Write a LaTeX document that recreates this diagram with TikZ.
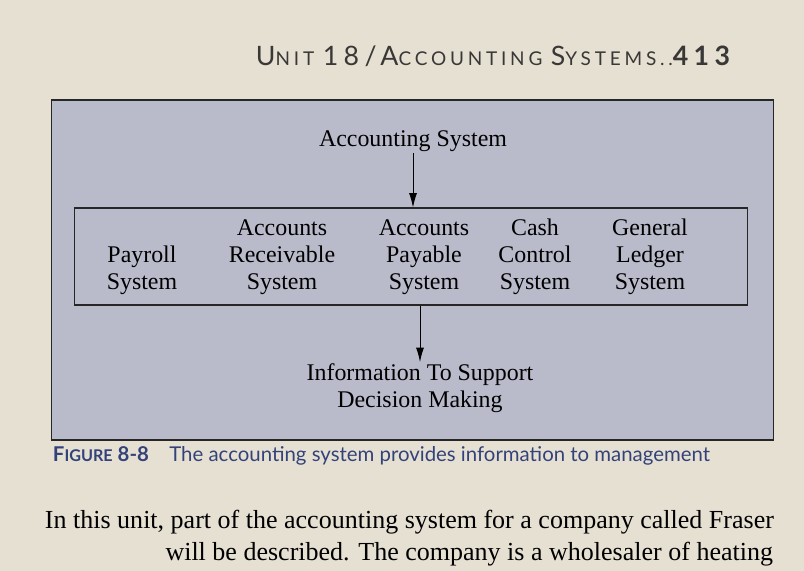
\documentclass[tikz,border=0pt]{standalone}
\usepackage{fontspec}
\setmainfont{Liberation Serif}
\setsansfont{Lato}
\usetikzlibrary{positioning,arrows.meta}
\definecolor{pagebg}{HTML}{E6E0D3}
\definecolor{boxfill}{HTML}{B9BBCB}
\definecolor{capblue}{HTML}{34427A}
\definecolor{headgray}{HTML}{3A3836}
\begin{document}
\begin{tikzpicture}[x=0.025cm,y=-0.025cm,
	sysnode/.style={align=center,font=\fontsize{17}{19}\selectfont,inner sep=1pt},
	flow/.style={-{Latex[length=3.6mm,width=2mm]},semithick}]
		\fill[pagebg] (0,0) rectangle (804,571);
		\useasboundingbox (0,0) rectangle (804,571);
		\node[headgray,font=\sffamily\fontsize{13.5}{15}\selectfont\addfontfeature{LetterSpace=20}] (head) at (493,56) {{\fontsize{19}{20}\selectfont U}NIT {\fontsize{19}{20}\selectfont 18/A}CCOUNTING {\fontsize{19}{20}\selectfont S}YSTEMS..{\fontsize{19}{20}\selectfont\bfseries 413}};
		\node[draw=black!85,fill=boxfill,thick,minimum width=18.025cm,minimum height=8.5cm] (outer) at (412.5,270) {};
		\node[draw=black!85,thick,minimum width=16.8cm,minimum height=2.425cm] (frame) at (411,256.5) {};
		\node[sysnode] (acct) at (413,141) {Accounting System};
		\node[sysnode,anchor=south] (payroll) at (142,296) {Payroll\\System};
		\node[sysnode,anchor=south] (receiv) at (282,296) {Accounts\\Receivable\\System};
		\node[sysnode,anchor=south] (payable) at (424,296) {Accounts\\Payable\\System};
		\node[sysnode,anchor=south] (cash) at (535,296) {Cash\\Control\\System};
		\node[sysnode,anchor=south] (ledger) at (650,296) {General\\Ledger\\System};
		\node[sysnode,anchor=north] (info) at (420,362) {Information To Support\\Decision Making};
		\draw[flow] (acct.south) -- (acct.south |- frame.north);
		\draw[flow] (info.north |- frame.south) -- (info.north);
		\node[anchor=west,capblue,font=\sffamily\fontsize{14.5}{16}\selectfont] (caption) at (48,456) {{\bfseries F{\fontsize{11.5}{13}\selectfont IGURE} 8-8}\quad The accounting system provides information to management};
		\node[anchor=west,font=\fontsize{18.5}{21}\selectfont] (body1) at (40,522) {In this unit, part of the accounting system for a company called Fraser};
		\node[anchor=east,font=\fontsize{18.5}{21}\selectfont] (body2) at (778,554) {will be described. The company is a wholesaler of heating};
	\end{tikzpicture}
\end{document}
